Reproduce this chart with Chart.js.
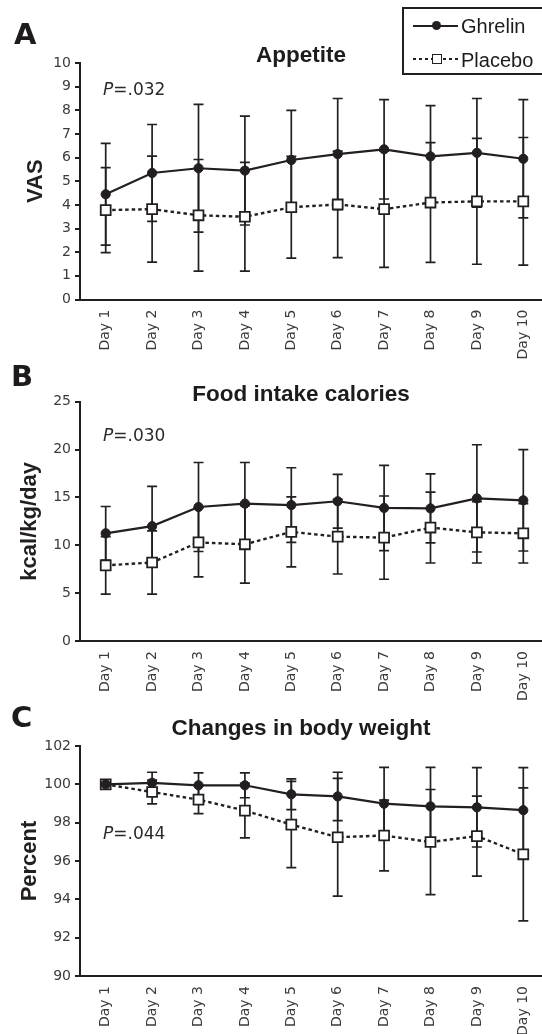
<!DOCTYPE html>
<html><head><meta charset="utf-8">
<script src="https://cdn.jsdelivr.net/npm/chart.js@4.4.1/dist/chart.umd.min.js"></script>
<style>
html,body{margin:0;padding:0;background:#fff;}
body{position:relative;width:542px;height:1034px;overflow:hidden;color:#1e1b1c;}
canvas{position:absolute;left:0;}
.t{position:absolute;white-space:nowrap;}
.letter{font-family:"DejaVu Sans",sans-serif;font-weight:bold;font-size:29px;line-height:30px;}
.title{font-family:"Liberation Sans",Arial,sans-serif;font-weight:bold;font-size:22.5px;line-height:26px;left:151px;width:300px;text-align:center;}
.pval{font-family:"DejaVu Sans",sans-serif;font-size:17px;line-height:20px;left:103px;color:#2a2a2a;}
.leg{font-family:"Liberation Sans",Arial,sans-serif;font-size:20px;line-height:24px;left:461px;}
</style></head><body>
<canvas id="cA" width="542" height="362" style="top:0px"></canvas>
<canvas id="cB" width="542" height="343" style="top:362px"></canvas>
<canvas id="cC" width="542" height="329" style="top:705px"></canvas>

<div class="t letter" style="left:14px;top:19px">A</div>
<div class="t letter" style="left:11px;top:361px">B</div>
<div class="t letter" style="left:11px;top:702px">C</div>

<div class="t title" style="top:42px">Appetite</div>
<div class="t title" style="top:381px">Food intake calories</div>
<div class="t title" style="top:715px">Changes in body weight</div>

<div class="t pval" style="top:79px"><i>P</i>=.032</div>
<div class="t pval" style="top:425px"><i>P</i>=.030</div>
<div class="t pval" style="top:823px"><i>P</i>=.044</div>

<div style="position:absolute;left:402px;top:7px;width:200px;height:64px;border:2px solid #231f20;"></div>
<div style="position:absolute;left:413px;top:24.7px;width:45px;height:2px;background:#231f20;"></div>
<div style="position:absolute;left:432px;top:21px;width:9.4px;height:9.4px;border-radius:50%;background:#231f20;"></div>
<div class="t leg" style="top:14px">Ghrelin</div>
<div style="position:absolute;left:413px;top:58.2px;width:46px;height:2.2px;background:repeating-linear-gradient(90deg,#231f20 0 3px,transparent 3px 6px);"></div>
<div style="position:absolute;left:431.7px;top:54.3px;width:10px;height:10px;box-sizing:border-box;border:1.8px solid #231f20;background:#fff;"></div>
<div class="t leg" style="top:47.5px">Placebo</div>

<script>
// ---- data ----
const categories = ['Day 1','Day 2','Day 3','Day 4','Day 5','Day 6','Day 7','Day 8','Day 9','Day 10'];
const seriesNames = ['Ghrelin','Placebo'];

const appetiteTicks = [0,1,2,3,4,5,6,7,8,9,10];
const appetiteGhrelin   = [4.45, 5.35, 5.55, 5.45, 5.9, 6.15, 6.35, 6.05, 6.2, 5.95];
const appetiteGhrelinSD = [2.15, 2.05, 2.7, 2.3, 2.1, 2.35, 2.1, 2.15, 2.3, 2.5];
const appetitePlacebo   = [3.78, 3.82, 3.56, 3.5, 3.9, 4.02, 3.82, 4.1, 4.15, 4.15];
const appetitePlaceboSD = [1.8, 2.24, 2.36, 2.3, 2.15, 2.25, 2.46, 2.53, 2.66, 2.7];

const foodTicks = [0,5,10,15,20,25];
const foodGhrelin   = [11.25, 12.0, 14.0, 14.35, 14.2, 14.6, 13.9, 13.85, 14.9, 14.7];
const foodGhrelinSD = [2.8, 4.15, 4.65, 4.3, 3.9, 2.8, 4.45, 3.6, 5.6, 5.3];
const foodPlacebo   = [7.9, 8.2, 10.3, 10.1, 11.4, 10.9, 10.8, 11.85, 11.35, 11.25];
const foodPlaceboSD = [3.0, 3.3, 3.6, 4.05, 3.65, 3.9, 4.35, 3.7, 3.2, 3.1];

const weightTicks = [90,92,94,96,98,100,102];
const weightGhrelin   = [100.0, 100.08, 99.95, 99.95, 99.48, 99.37, 98.99, 98.85, 98.8, 98.65];
const weightGhrelinSD = [0, 0.55, 0.65, 0.65, 0.8, 1.26, 1.9, 2.03, 2.07, 2.22];
const weightPlacebo   = [100.0, 99.6, 99.2, 98.63, 97.9, 97.24, 97.33, 96.99, 97.3, 96.35];
const weightPlaceboSD = [0, 0.62, 0.73, 1.42, 2.25, 3.07, 1.85, 2.74, 2.09, 3.47];

// ---- style ----
const INK = '#231f20';
const TICK = '#3b3b3b';
const X_MIN = 0.446, X_MAX = 10.403;

const errorBars = {
  id: 'errorBars',
  beforeDatasetsDraw(chart) {
    const ctx = chart.ctx, ys = chart.scales.y;
    ctx.save();
    ctx.strokeStyle = INK;
    ctx.lineWidth = 1.7;
    chart.data.datasets.forEach((ds, di) => {
      const meta = chart.getDatasetMeta(di);
      ds.errors.forEach((e, i) => {
        if (!e) return;
        const pt = meta.data[i];
        const v = ds.data[i].y;
        const y1 = ys.getPixelForValue(v + e), y2 = ys.getPixelForValue(v - e);
        const x = pt.x, w = 5;
        ctx.beginPath();
        ctx.moveTo(x, y1); ctx.lineTo(x, y2);
        ctx.moveTo(x - w, y1); ctx.lineTo(x + w, y1);
        ctx.moveTo(x - w, y2); ctx.lineTo(x + w, y2);
        ctx.stroke();
      });
    });
    ctx.restore();
  }
};

function toPts(arr) { return arr.map((v, i) => ({ x: i + 1, y: v })); }

function makeChart(id, L, yTicks, g, gSD, p, pSD, yTitle, titlePad) {
  return new Chart(document.getElementById(id), {
    type: 'line',
    data: {
      datasets: [
        { label: seriesNames[0], data: toPts(g), errors: gSD,
          borderColor: INK, backgroundColor: INK, borderWidth: 2.2,
          pointStyle: 'circle', pointRadius: 4.6, pointBorderWidth: 1,
          pointBackgroundColor: INK, pointBorderColor: INK, tension: 0, clip: false },
        { label: seriesNames[1], data: toPts(p), errors: pSD,
          borderColor: INK, backgroundColor: '#fff', borderWidth: 2.4, borderDash: [3.5, 3],
          pointStyle: 'rect', pointRadius: 7, pointBorderWidth: 1.8,
          pointBackgroundColor: '#fff', pointBorderColor: INK, tension: 0, clip: false }
      ]
    },
    options: {
      responsive: false, animation: false,
      layout: { autoPadding: false, padding: { top: L.top, left: 0, right: 0, bottom: 0 } },
      plugins: { legend: { display: false }, tooltip: { enabled: false } },
      scales: {
        x: {
          type: 'linear', min: X_MIN, max: X_MAX,
          afterBuildTicks: s => { s.ticks = categories.map((c, i) => ({ value: i + 1 })); },
          afterFit: s => { s.height = L.h - L.bottom; s.paddingLeft = 0; s.paddingRight = 0; },
          grid: { display: false, drawTicks: false },
          border: { display: true, color: INK, width: 2 },
          ticks: { autoSkip: false, maxRotation: 90, minRotation: 90, padding: 10, color: TICK,
                   font: { family: 'DejaVu Sans', size: 14 },
                   callback: v => categories[Math.round(v) - 1] }
        },
        y: {
          min: yTicks[0], max: yTicks[yTicks.length - 1],
          afterBuildTicks: s => { s.ticks = yTicks.map(v => ({ value: v })); },
          afterFit: s => { s.width = 80; s.paddingTop = 0; s.paddingBottom = 0; },
          grid: { display: true, drawOnChartArea: false, drawTicks: true, tickLength: 5, color: INK, lineWidth: 2 },
          border: { display: true, color: INK, width: 2 },
          ticks: { padding: 4, color: TICK, font: { family: 'DejaVu Sans', size: 14 } },
          title: { display: true, text: yTitle, color: INK,
                   font: { family: 'Liberation Sans', size: 22, weight: 'bold' },
                   padding: { top: titlePad, bottom: 0 } }
        }
      }
    },
    plugins: [errorBars]
  });
}

makeChart('cA', { h: 362, top: 63, bottom: 299.5 }, appetiteTicks,
  appetiteGhrelin, appetiteGhrelinSD, appetitePlacebo, appetitePlaceboSD, 'VAS', 23);
makeChart('cB', { h: 343, top: 39.7, bottom: 279 }, foodTicks,
  foodGhrelin, foodGhrelinSD, foodPlacebo, foodPlaceboSD, 'kcal/kg/day', 17);
makeChart('cC', { h: 329, top: 41, bottom: 271 }, weightTicks,
  weightGhrelin, weightGhrelinSD, weightPlacebo, weightPlaceboSD, 'Percent', 17);
</script>
</body></html>
